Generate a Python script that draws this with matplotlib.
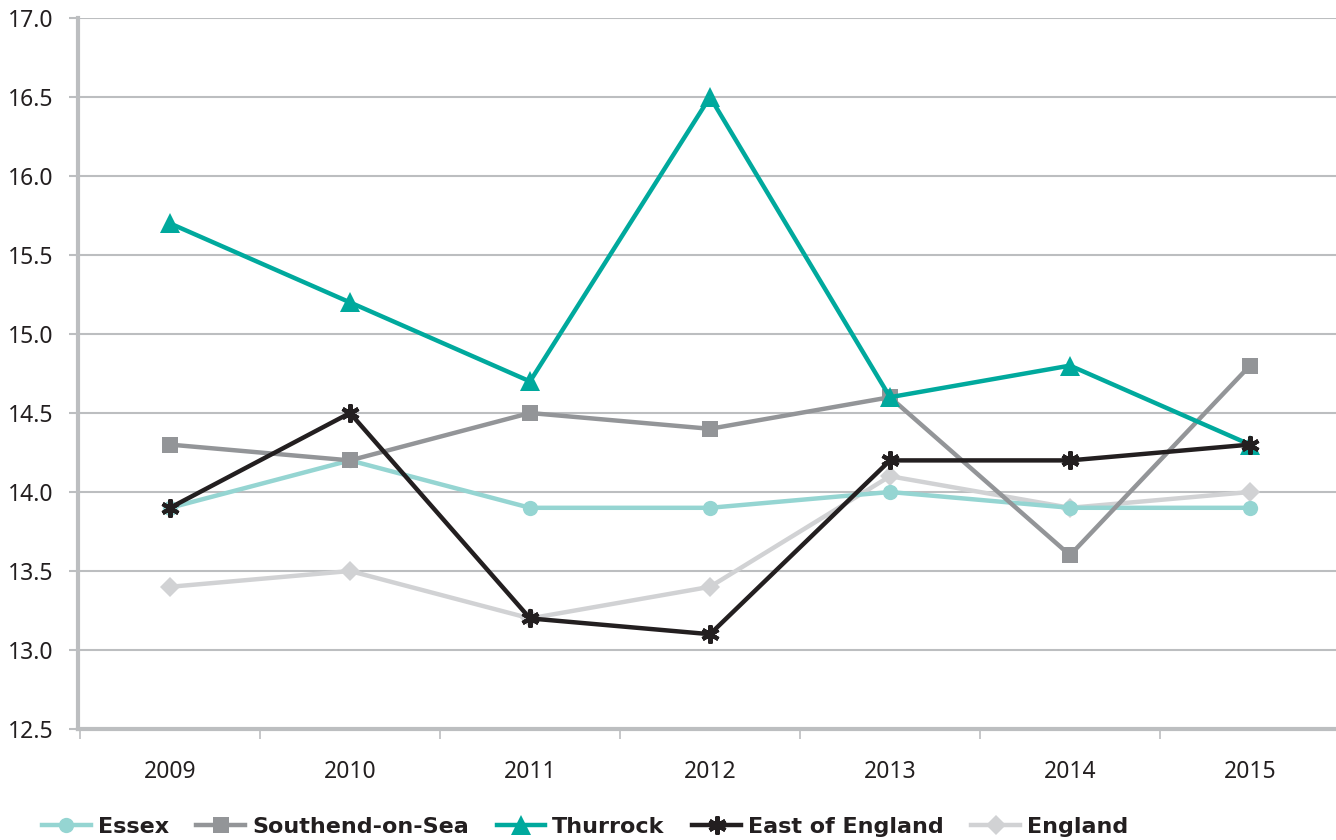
import matplotlib
matplotlib.use("Agg")
import matplotlib.pyplot as plt
from matplotlib.ticker import FixedLocator, FormatStrFormatter
from matplotlib import font_manager

years = ["2009", "2010", "2011", "2012", "2013", "2014", "2015"]
essex = [13.9, 14.2, 13.9, 13.9, 14.0, 13.9, 13.9]
southend = [14.3, 14.2, 14.5, 14.4, 14.6, 13.6, 14.8]
thurrock = [15.7, 15.2, 14.7, 16.5, 14.6, 14.8, 14.3]
east_of_england = [13.9, 14.5, 13.2, 13.1, 14.2, 14.2, 14.3]
england = [13.4, 13.5, 13.2, 13.4, 14.1, 13.9, 14.0]

plt.rcParams['font.family'] = ['Noto Sans', 'DejaVu Sans']

names = {f.name for f in font_manager.fontManager.ttflist}
legend_family = 'Liberation Sans Narrow' if 'Liberation Sans Narrow' in names else 'DejaVu Sans'
legend_size = 19.5 if legend_family == 'Liberation Sans Narrow' else 16

fig = plt.figure(figsize=(13.36, 8.4), dpi=100)
ax = fig.add_axes([78/1336, 111/840, 1258/1336, 711/840])

x = list(range(len(years)))
lw = 3.2
series = [
    ("Essex", essex, "#95d5d2", "o", 11, 3),
    ("Southend-on-Sea", southend, "#939598", "s", 11, 4),
    ("Thurrock", thurrock, "#00a99d", "^", 14, 5),
    ("East of England", east_of_england, "#231f20", (6, 2, 0), 13, 6),
    ("England", england, "#d1d2d4", "D", 10, 2),
]
handles = []
for name, vals, col, mk, ms, z in series:
    kw = dict(color=col, lw=lw, marker=mk, markersize=ms, zorder=z,
              markerfacecolor=col, markeredgecolor=col, label=name)
    if mk == (6, 2, 0):
        kw['markeredgewidth'] = 3
    else:
        kw['markeredgewidth'] = 0
    h, = ax.plot(x, vals, **kw)
    handles.append(h)

ax.set_xlim(-(170 - 78) / 180, 6 + (1336 - 1250) / 180)
ax.set_ylim(12.5, 17.0)
ax.set_xticks(x)
ax.set_xticklabels(years)
ax.xaxis.set_minor_locator(FixedLocator([i + 0.5 for i in range(-1, 7)]))
ax.tick_params(axis='x', which='major', length=0, labelsize=16.5, pad=22, colors='#231f20')
ax.tick_params(axis='x', which='minor', length=7.5, width=1.2, color='#bcbec0', direction='out')
ax.set_yticks([12.5 + 0.5 * i for i in range(10)])
ax.yaxis.set_major_formatter(FormatStrFormatter('%.1f'))
ax.tick_params(axis='y', length=6.5, width=1.5, labelsize=16.5, pad=11, colors='#231f20')
ax.tick_params(axis='y', color='#bcbec0')
ax.grid(axis='y', color='#bcbec0', lw=1.5, zorder=0)
ax.set_axisbelow(True)
for s in ['top', 'right']:
    ax.spines[s].set_visible(False)
for s in ['left', 'bottom']:
    ax.spines[s].set_color('#bcbec0')
    ax.spines[s].set_linewidth(3)

leg = fig.legend(handles=handles, loc='lower left', bbox_to_anchor=(22/1336, -0.02),
                 ncol=5, frameon=False, handlelength=2.2, handletextpad=0.3,
                 columnspacing=1.25, prop={'family': legend_family, 'weight': 'bold',
                                           'size': legend_size})
for t in leg.get_texts():
    t.set_color('#231f20')

fig.savefig("out.png", dpi=100)
